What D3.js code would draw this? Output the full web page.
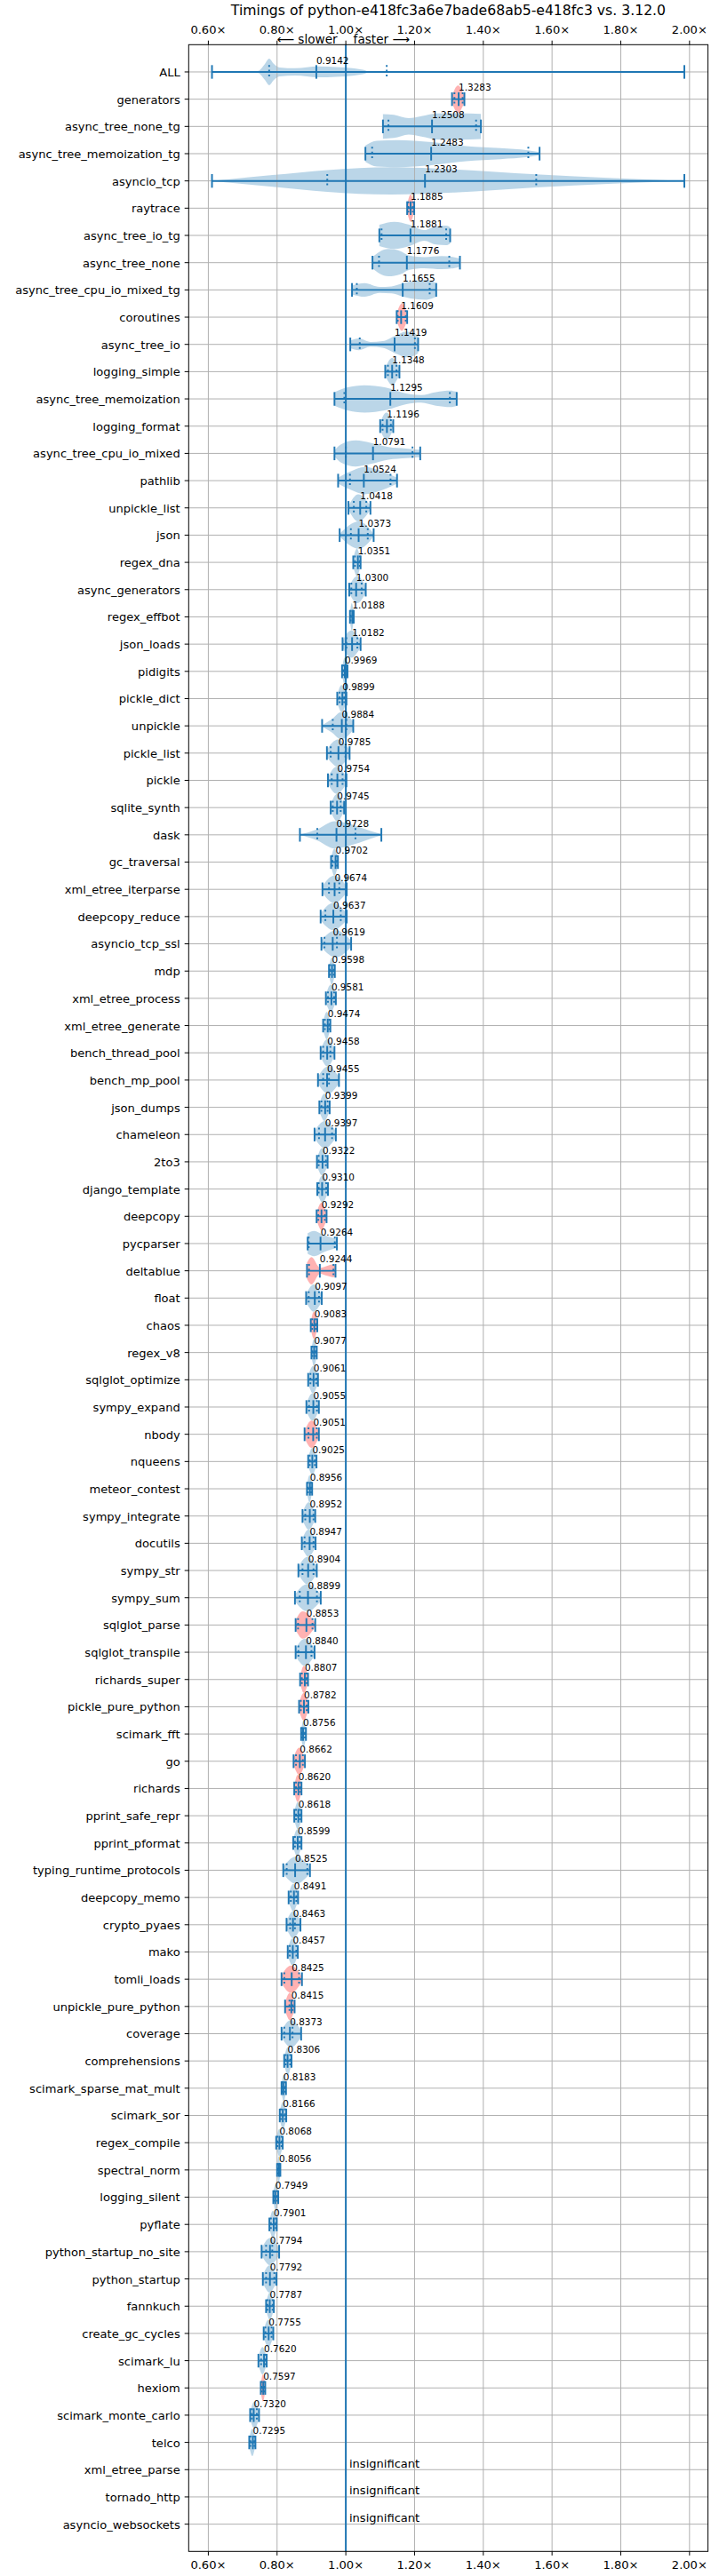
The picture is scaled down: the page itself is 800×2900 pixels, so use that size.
<!DOCTYPE html>
<html><head><meta charset="utf-8">
<script src="https://cdn.jsdelivr.net/npm/d3@7"></script>
<style>
body{margin:0;background:#fff}
svg{display:block}
text{font-family:"DejaVu Sans",sans-serif}
</style>
</head><body>
<svg id="chart" width="800" height="2900"></svg>
<script>
const chartTitle = "Timings of python-e418fc3a6e7bade68ab5-e418fc3 vs. 3.12.0";
const xTicks = [0.6, 0.8, 1.0, 1.2, 1.4, 1.6, 1.8, 2.0];

const benchmarks = [
"ALL","generators","async_tree_none_tg","async_tree_memoization_tg","asyncio_tcp","raytrace","async_tree_io_tg","async_tree_none","async_tree_cpu_io_mixed_tg","coroutines",
"async_tree_io","logging_simple","async_tree_memoization","logging_format","async_tree_cpu_io_mixed","pathlib","unpickle_list","json","regex_dna","async_generators",
"regex_effbot","json_loads","pidigits","pickle_dict","unpickle","pickle_list","pickle","sqlite_synth","dask","gc_traversal",
"xml_etree_iterparse","deepcopy_reduce","asyncio_tcp_ssl","mdp","xml_etree_process","xml_etree_generate","bench_thread_pool","bench_mp_pool","json_dumps","chameleon",
"2to3","django_template","deepcopy","pycparser","deltablue","float","chaos","regex_v8","sqlglot_optimize","sympy_expand",
"nbody","nqueens","meteor_contest","sympy_integrate","docutils","sympy_str","sympy_sum","sqlglot_parse","sqlglot_transpile","richards_super",
"pickle_pure_python","scimark_fft","go","richards","pprint_safe_repr","pprint_pformat","typing_runtime_protocols","deepcopy_memo","crypto_pyaes","mako",
"tomli_loads","unpickle_pure_python","coverage","comprehensions","scimark_sparse_mat_mult","scimark_sor","regex_compile","spectral_norm","logging_silent","pyflate",
"python_startup_no_site","python_startup","fannkuch","create_gc_cycles","scimark_lu","hexiom","scimark_monte_carlo","telco","xml_etree_parse","tornado_http",
"asyncio_websockets"];

const medians = [
0.9142,1.3283,1.2508,1.2483,1.2303,1.1885,1.1881,1.1776,1.1655,1.1609,
1.1419,1.1348,1.1295,1.1196,1.0791,1.0524,1.0418,1.0373,1.0351,1.0300,
1.0188,1.0182,0.9969,0.9899,0.9884,0.9785,0.9754,0.9745,0.9728,0.9702,
0.9674,0.9637,0.9619,0.9598,0.9581,0.9474,0.9458,0.9455,0.9399,0.9397,
0.9322,0.9310,0.9292,0.9264,0.9244,0.9097,0.9083,0.9077,0.9061,0.9055,
0.9051,0.9025,0.8956,0.8952,0.8947,0.8904,0.8899,0.8853,0.8840,0.8807,
0.8782,0.8756,0.8662,0.8620,0.8618,0.8599,0.8525,0.8491,0.8463,0.8457,
0.8425,0.8415,0.8373,0.8306,0.8183,0.8166,0.8068,0.8056,0.7949,0.7901,
0.7794,0.7792,0.7787,0.7755,0.7620,0.7597,0.7320,0.7295,null,null,
null];

const mins = [
0.6106,1.309,1.108,1.057,0.6106,1.1785,1.0975,1.0776,1.018,1.148,
1.013,1.1147,0.967,1.100,0.967,0.9776,1.0078,0.982,1.0216,1.010,
1.012,0.9905,0.989,0.975,0.931,0.945,0.948,0.956,0.8664,0.957,
0.932,0.9267,0.929,0.951,0.942,0.934,0.9267,0.919,0.923,0.909,
0.916,0.917,0.915,0.889,0.887,0.8845,0.898,0.900,0.8905,0.8853,
0.880,0.8905,0.887,0.874,0.872,0.862,0.852,0.854,0.854,0.867,
0.864,0.870,0.848,0.850,0.850,0.847,0.818,0.8336,0.8276,0.831,
0.813,0.8233,0.813,0.8207,0.813,0.8078,0.7974,0.800,0.789,0.7776,
0.755,0.7586,0.768,0.761,0.7457,0.7526,0.7216,0.719,null,null,
null];

const maxs = [
1.985,1.345,1.393,1.5637,1.985,1.199,1.3036,1.332,1.263,1.1785,
1.2104,1.156,1.3226,1.138,1.2165,1.149,1.0716,1.081,1.043,1.058,
1.023,1.043,1.005,1.0017,1.0216,1.011,1.0017,0.995,1.1034,0.977,
1.0026,1.0026,1.0155,0.968,0.971,0.955,0.967,0.980,0.953,0.971,
0.947,0.948,0.944,0.974,0.970,0.930,0.917,0.9155,0.919,0.9216,
0.9216,0.9147,0.902,0.911,0.912,0.9155,0.927,0.911,0.909,0.890,
0.891,0.884,0.881,0.871,0.871,0.871,0.8957,0.861,0.868,0.8603,
0.8724,0.851,0.870,0.842,0.8259,0.8267,0.8164,0.8095,0.8034,0.799,
0.806,0.7983,0.7905,0.789,0.7698,0.7655,0.7474,0.737,null,null,
null];

const qLow = [
0.777,1.316,1.124,1.0766,0.946,1.182,1.104,1.0966,1.032,1.151,
1.0405,1.1225,0.9957,1.107,1.0,1.012,1.0233,1.0147,1.0265,1.016,
1.014,1.0017,0.992,0.982,0.962,0.956,0.959,0.962,0.917,0.961,
0.951,0.9405,0.9379,0.954,0.948,0.939,0.934,0.934,0.929,0.922,
0.921,0.921,0.920,0.892,0.893,0.892,0.902,0.903,0.897,0.893,
0.8914,0.895,0.890,0.882,0.880,0.874,0.866,0.861,0.862,0.872,
0.869,0.872,0.855,0.855,0.855,0.852,0.828,0.840,0.838,0.837,
0.821,0.836,0.821,0.825,0.815,0.811,0.801,0.802,0.791,0.782,
0.768,0.768,0.772,0.766,0.7535,0.755,0.7265,0.7225,null,null,
null];

const qHigh = [
1.119,1.340,1.379,1.531,1.554,1.195,1.292,1.301,1.244,1.1745,
1.201,1.1475,1.3027,1.131,1.194,1.130,1.0595,1.0638,1.0405,1.046,
1.021,1.0336,1.002,0.995,1.0017,0.999,0.9905,0.985,1.028,0.974,
0.981,0.9853,0.9741,0.965,0.966,0.952,0.955,0.951,0.947,0.960,
0.942,0.943,0.939,0.968,0.964,0.922,0.913,0.912,0.914,0.916,
0.9155,0.910,0.899,0.906,0.906,0.906,0.916,0.903,0.900,0.886,
0.886,0.881,0.875,0.867,0.867,0.866,0.888,0.856,0.852,0.856,
0.864,0.845,0.845,0.838,0.823,0.823,0.813,0.808,0.800,0.796,
0.786,0.792,0.787,0.784,0.767,0.763,0.741,0.734,null,null,
null];

// benchmarks whose violin body is drawn in red
const highlighted = ["generators","raytrace","coroutines","deepcopy","deltablue","chaos","nbody",
  "sqlglot_parse","richards_super","pickle_pure_python","go","richards","tomli_loads",
  "unpickle_pure_python","hexiom"];

// violin outlines: [speedup, relative half-width]
const violinShapes = {
  "ALL": [[0.6106,0],[0.70,0.01],[0.745,0.08],[0.765,0.6],[0.777,0.97],[0.79,0.6],[0.807,0.33],[0.853,0.27],[0.92,0.4],[0.972,0.36],[1.025,0.26],[1.05,0.16],[1.07,0.03],[1.2,0.008],[1.985,0]],
  "asyncio_tcp": [[0.6106,0],[0.787,0.43],[0.946,0.8],[1.131,1],[1.316,0.85],[1.553,0.48],[1.778,0.2],[1.985,0]],
  "async_tree_none_tg": [[1.108,0.9],[1.14,0.85],[1.183,0.6],[1.22,0.75],[1.263,0.95],[1.33,0.97],[1.393,0.92]],
  "async_tree_memoization_tg": [[1.057,0.6],[1.09,0.95],[1.15,1],[1.25,0.85],[1.35,0.55],[1.45,0.4],[1.53,0.25],[1.5637,0.12]],
  "async_tree_io_tg": [[1.0975,0.78],[1.141,1],[1.185,0.78],[1.228,0.39],[1.262,0.67],[1.292,0.72],[1.3036,0.6]],
  "async_tree_none": [[1.0776,0.41],[1.098,0.8],[1.124,1],[1.159,0.85],[1.185,0.52],[1.228,0.41],[1.279,0.48],[1.314,0.41],[1.332,0.3]],
  "async_tree_cpu_io_mixed_tg": [[1.018,0.33],[1.055,0.5],[1.098,0.22],[1.133,0.26],[1.167,0.5],[1.21,0.7],[1.235,0.72],[1.263,0.5]],
  "async_tree_io": [[1.013,0.28],[1.038,0.43],[1.072,0.17],[1.107,0.24],[1.15,0.72],[1.176,0.95],[1.197,0.85],[1.2104,0.65]],
  "async_tree_memoization": [[0.967,0.5],[1.003,0.83],[1.055,1],[1.116,0.83],[1.176,0.39],[1.219,0.28],[1.262,0.5],[1.305,0.6],[1.3226,0.52]],
  "async_tree_cpu_io_mixed": [[0.967,0.24],[0.986,0.67],[1.029,0.96],[1.072,0.78],[1.124,0.46],[1.176,0.35],[1.2165,0.26]],
  "pathlib": [[0.9776,0.22],[1.012,0.65],[1.055,1],[1.098,0.76],[1.149,0.22]],
  "unpickle_list": [[1.0078,0.15],[1.036,1],[1.0716,0.15]],
  "json": [[0.982,0.1],[1.038,1],[1.081,0.1]],
  "unpickle": [[0.931,0.05],[0.96,0.5],[0.986,1],[1.0216,0.3]],
  "dask": [[0.8664,0],[0.917,0.41],[0.968,1],[1.028,0.67],[1.0716,0.28],[1.1034,0.05]],
  "pycparser": [[0.889,0.76],[0.9078,0.93],[0.9336,0.65],[0.9595,0.43],[0.974,0.33]],
  "deltablue": [[0.887,0.59],[0.9,1],[0.925,0.22],[0.946,0.37],[0.964,0.48],[0.970,0.39]],
  "sqlglot_parse": [[0.854,0.35],[0.874,1],[0.911,0.15]],
  "tomli_loads": [[0.813,0.3],[0.84,1],[0.8724,0.2]]
};
// generic lens outline for the narrow violins: [fraction of min..max, relative half-width]
const lensProfile = [[0,0.25],[0.2,0.7],[0.4,0.97],[0.5,1],[0.6,0.95],[0.8,0.65],[1,0.25]];

const BLUE = "#1f77b4";
const GRID = "#b0b0b0";
const FONT_TICK = 13.05, FONT_SMALL = 10.44, FONT_TITLE = 15.66;

const svg = d3.select("#chart");
const L = 212.3, R = 796.6, T = 50.3, B = 2872.3;
const x = d3.scaleLinear().domain([0.5428, 2.0537]).range([L, R]);
const y = d3.scaleLinear().domain([0, benchmarks.length + 1]).range([T, B]);
const rowY = i => y(i + 1);
const HALF = y(0.5) - y(0);
const CAP = y(0.25) - y(0);

svg.append("rect").attr("width", 800).attr("height", 2900).attr("fill", "#fff");

// violin bodies
const gBodies = svg.append("g");
benchmarks.forEach((name, i) => {
  if (medians[i] == null) {
    gBodies.append("line").attr("x1", x(1)).attr("x2", x(1))
      .attr("y1", rowY(i) - 9).attr("y2", rowY(i) + 7)
      .attr("stroke", BLUE).attr("stroke-opacity", 0.3).attr("stroke-width", 1.5);
    return;
  }
  const prof = violinShapes[name]
    ? violinShapes[name]
    : lensProfile.map(([t, w]) => [mins[i] + t * (maxs[i] - mins[i]), w]);
  const area = d3.area()
    .x(d => x(d[0]))
    .y0(d => rowY(i) - d[1] * HALF)
    .y1(d => rowY(i) + d[1] * HALF)
    .curve(d3.curveMonotoneX);
  gBodies.append("path").attr("d", area(prof))
    .attr("fill", highlighted.includes(name) ? "#ff0000" : BLUE)
    .attr("fill-opacity", 0.3);
});

// grid
const gGrid = svg.append("g").attr("stroke", GRID).attr("stroke-width", 1);
xTicks.forEach(t => gGrid.append("line").attr("x1", x(t)).attr("x2", x(t)).attr("y1", T).attr("y2", B));
benchmarks.forEach((n, i) => gGrid.append("line").attr("x1", L).attr("x2", R).attr("y1", rowY(i)).attr("y2", rowY(i)));

// reference line at 1.0
svg.append("line").attr("x1", x(1)).attr("x2", x(1)).attr("y1", T).attr("y2", B)
  .attr("stroke", BLUE).attr("stroke-width", 2);

// violin lines
const gLines = svg.append("g").attr("stroke", BLUE).attr("stroke-width", 1.96);
benchmarks.forEach((name, i) => {
  if (medians[i] == null) return;
  const cy = rowY(i);
  gLines.append("line").attr("x1", x(mins[i])).attr("x2", x(maxs[i])).attr("y1", cy).attr("y2", cy);
  [mins[i], maxs[i], medians[i]].forEach(v =>
    gLines.append("line").attr("x1", x(v)).attr("x2", x(v)).attr("y1", cy - CAP).attr("y2", cy + CAP));
  [qLow[i], qHigh[i]].forEach(v =>
    gLines.append("line").attr("x1", x(v)).attr("x2", x(v)).attr("y1", cy - CAP).attr("y2", cy + CAP)
      .attr("stroke-dasharray", "2,3.3"));
});

// value labels
const gLab = svg.append("g").attr("font-size", FONT_SMALL).attr("fill", "#000");
const fmt = d3.format(".4f");
benchmarks.forEach((name, i) => {
  if (medians[i] == null) {
    svg.append("text").attr("x", x(1.01)).attr("y", rowY(i) - 2.5)
      .attr("font-size", FONT_TICK).text("insignificant");
  } else {
    gLab.append("text").attr("x", x(medians[i])).attr("y", rowY(i) - 9.3).text(fmt(medians[i]));
  }
});

// spines
const gAx = svg.append("g").attr("stroke", "#000").attr("stroke-width", 1).attr("fill", "none");
gAx.append("rect").attr("x", L).attr("y", T).attr("width", R - L).attr("height", B - T);

// y axis ticks and labels
benchmarks.forEach((name, i) => {
  gAx.append("line").attr("x1", L - 4.6).attr("x2", L).attr("y1", rowY(i)).attr("y2", rowY(i));
  svg.append("text").attr("x", L - 9.6).attr("y", rowY(i)).attr("dy", "0.38em")
    .attr("text-anchor", "end").attr("font-size", FONT_TICK).text(name);
});

// x axis ticks top and bottom
const xfmt = v => d3.format(".2f")(v) + "\u00d7";
xTicks.forEach(t => {
  gAx.append("line").attr("x1", x(t)).attr("x2", x(t)).attr("y1", T - 4.6).attr("y2", T);
  gAx.append("line").attr("x1", x(t)).attr("x2", x(t)).attr("y1", B).attr("y2", B + 4.6);
  svg.append("text").attr("x", x(t)).attr("y", 37.7).attr("text-anchor", "middle")
    .attr("font-size", FONT_TICK).text(xfmt(t));
  svg.append("text").attr("x", x(t)).attr("y", 2892).attr("text-anchor", "middle")
    .attr("font-size", FONT_TICK).text(xfmt(t));
});

// slower / faster hint
svg.append("text").attr("x", x(1) - 9.5).attr("y", 49.3).attr("text-anchor", "end")
  .attr("font-size", 13.6).text("\u27f5 slower");
svg.append("text").attr("x", x(1) + 8.5).attr("y", 49.3).attr("text-anchor", "start")
  .attr("font-size", 13.6).text("faster \u27f6");

// title
svg.append("text").attr("x", (L + R) / 2).attr("y", 17).attr("text-anchor", "middle")
  .attr("font-size", FONT_TITLE).text(chartTitle);
</script>
</body></html>
